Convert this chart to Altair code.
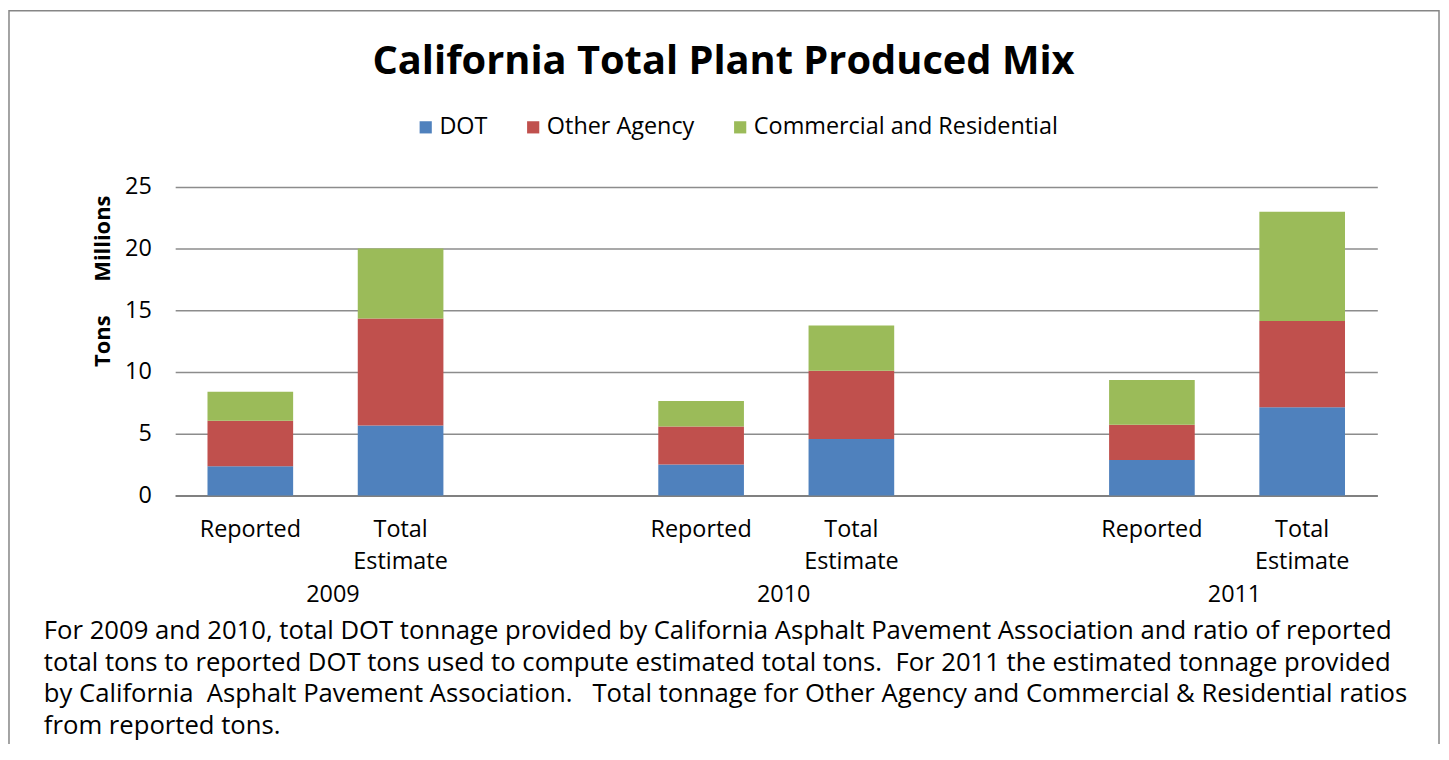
import altair as alt
import pandas as pd

# ---- data ----
years = ["2009", "2009", "2010", "2010", "2011", "2011"]
kinds = ["Reported", "Total Estimate", "Reported", "Total Estimate", "Reported", "Total Estimate"]
dot = [2.36, 5.67, 2.50, 4.57, 2.88, 7.15]
other_agency = [3.69, 8.66, 3.09, 5.53, 2.85, 6.99]
commercial = [2.36, 5.67, 2.07, 3.66, 3.62, 8.84]
series = ["DOT", "Other Agency", "Commercial and Residential"]
colors = ["#4F81BD", "#C0504D", "#9BBB59"]
year_labels = ["2009", "2010", "2011"]
y_ticks = [0, 5, 10, 15, 20, 25]
title_text = "California Total Plant Produced Mix"
NB = "\u00a0"
footnote_lines = [
    "For 2009 and 2010, total DOT tonnage provided by California Asphalt Pavement Association and ratio of reported",
    "total tons to reported DOT tons used to compute estimated total tons. " + NB + "For 2011 the estimated tonnage provided",
    "by California " + NB + "Asphalt Pavement Association. " + NB + NB + "Total tonnage for Other Agency and Commercial & Residential ratios",
    "from reported tons.",
]

FONT = "Open Sans"
LBL = 23.5

# category slots (blank slot between year groups, as in the original)
slots = []
for i, (yr, kd) in enumerate(zip(years, kinds)):
    slots.append(f"{yr} {kd}")
    if kd == "Total Estimate" and i < len(years) - 1:
        slots.append(" " * (len(slots) // 3 + 1))

rows = []
for i, (yr, kd) in enumerate(zip(years, kinds)):
    for j, (s, vals) in enumerate(zip(series, [dot, other_agency, commercial])):
        rows.append({"slot": f"{yr} {kd}", "year": yr, "kind": kd,
                     "series": s, "value": vals[i], "order": j})
df = pd.DataFrame(rows)
cat_df = pd.DataFrame({"slot": [f"{y} {k}" for y, k in zip(years, kinds)], "kind": kinds})
year_df = pd.DataFrame({"slot": [f"{y} Total Estimate" for y in year_labels], "year": year_labels})

x_enc = alt.X(
    "slot:N",
    scale=alt.Scale(domain=slots, paddingInner=0.43, paddingOuter=0.215),
    axis=alt.Axis(labels=False, ticks=False, title=None, grid=False,
                  domainColor="#808080", domainWidth=2),
)

bars = alt.Chart(df).mark_bar().encode(
    x=x_enc,
    y=alt.Y("value:Q", stack="zero",
            scale=alt.Scale(domain=[0, 25]),
            axis=alt.Axis(values=y_ticks, title=None, grid=True, gridColor="#8c8c8c",
                          gridWidth=1.5, domain=False, ticks=False, tickSize=0,
                          labelPadding=24, labelFont=FONT, labelFontSize=LBL,
                          labelColor="#000000")),
    color=alt.Color("series:N",
                    scale=alt.Scale(domain=series, range=colors),
                    legend=alt.Legend(orient="none", legendX=240, legendY=-72,
                                      direction="horizontal", title=None,
                                      symbolType="square", symbolSize=150,
                                      symbolStrokeWidth=0, labelFont=FONT,
                                      labelFontSize=LBL, labelColor="#000000",
                                      labelLimit=0, columnPadding=34, labelOffset=2)),
    order=alt.Order("order:Q"),
)

cat_text = alt.Chart(cat_df).mark_text(
    font=FONT, fontSize=LBL, baseline="alphabetic", align="center",
    lineBreak=" ", lineHeight=32, color="#000000",
).encode(x=x_enc, y=alt.value(352), text="kind:N")

year_text = alt.Chart(year_df).mark_text(
    font=FONT, fontSize=LBL, baseline="alphabetic", align="center",
    dx=-68, color="#000000",
).encode(x=x_enc, y=alt.value(417), text="year:N")

one = alt.Data(values=[{"t": title_text, "f": "\n".join(footnote_lines)}])

title = alt.Chart(one).mark_text(
    font=FONT, fontSize=40, fontWeight="bold", align="center",
    baseline="alphabetic", color="#000000",
).encode(x=alt.value(551), y=alt.value(-113), text="t:N")

footnote = alt.Chart(one).mark_text(
    font=FONT, fontSize=25.8, align="left", baseline="alphabetic",
    lineBreak="\n", lineHeight=32, color="#000000",
).encode(x=alt.value(-132), y=alt.value(454), text="f:N")

tons = alt.Chart(alt.Data(values=[{"t": "Tons"}])).mark_text(
    font=FONT, fontSize=22, fontWeight="bold", angle=270, align="center",
    baseline="middle", color="#000000",
).encode(x=alt.value(-73), y=alt.value(155), text="t:N")

millions = alt.Chart(alt.Data(values=[{"t": "Millions"}])).mark_text(
    font=FONT, fontSize=22, fontWeight="bold", angle=270, align="center",
    baseline="middle", color="#000000",
).encode(x=alt.value(-73), y=alt.value(52), text="t:N")

border = alt.Chart(alt.Data(values=[{"b": 1}])).mark_rect(
    filled=False, stroke="#868686", strokeWidth=1.5,
).encode(x=alt.value(-167), x2=alt.value(1270), y=alt.value(-177), y2=alt.value(700))

chart = alt.layer(border, bars, cat_text, year_text, title, footnote, tons, millions).properties(
    width=1208, height=310,
    autosize=alt.AutoSizeParams(type="none"),
    padding={"left": 168, "top": 178, "right": 64, "bottom": 248},
    background="white",
).configure_view(stroke=None)

chart.save("out.html", embed_options={"renderer": "svg", "actions": False})
